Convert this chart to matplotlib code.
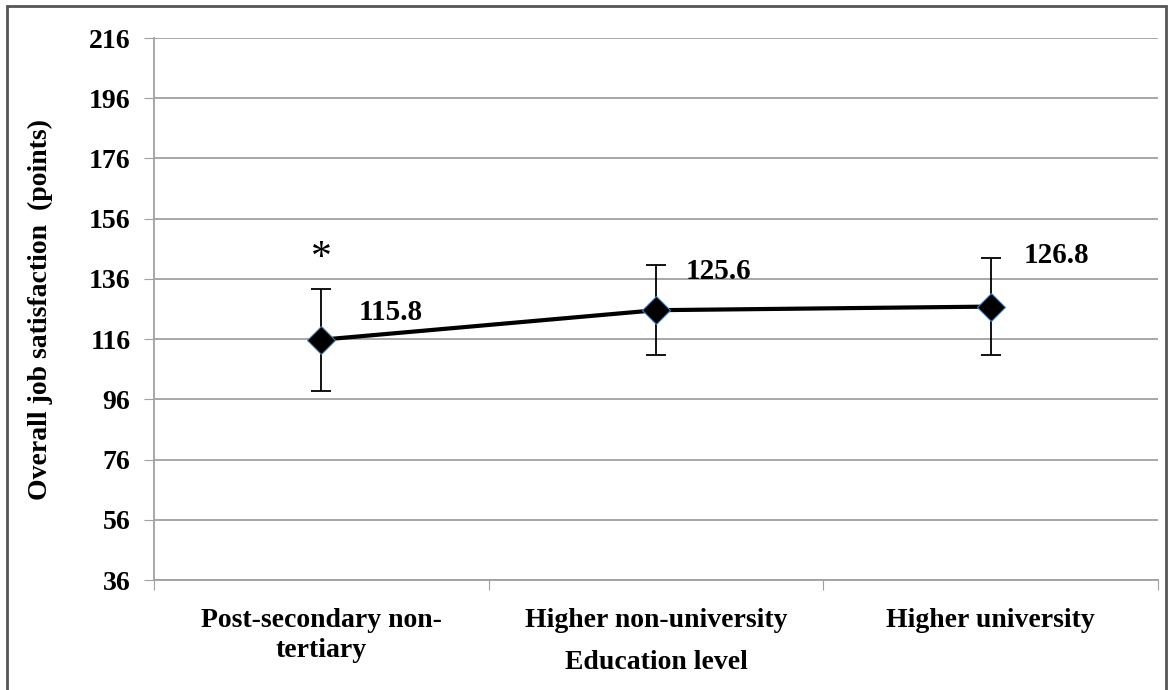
import matplotlib.pyplot as plt
from matplotlib.patches import Rectangle

categories = ['Post-secondary non-\ntertiary', 'Higher non-university', 'Higher university']
means = [115.8, 125.6, 126.8]
errors = [16.9, 15.0, 16.0]
value_labels = ['115.8', '125.6', '126.8']
label_offsets = [(69, 27), (62, 39), (66, 51)]
yticks = list(range(36, 217, 20))

plt.rcParams['font.family'] = ['Liberation Serif', 'DejaVu Serif']
plt.rcParams['font.weight'] = 'bold'

fig = plt.figure(figsize=(11.71, 6.9), dpi=100)
ax = fig.add_axes([154 / 1171, 1 - 580 / 690, (1158 - 154) / 1171, (580 - 38) / 690])

x = list(range(len(categories)))
ax.errorbar(x, means, yerr=errors, fmt='none', ecolor='black', elinewidth=1.3,
            capsize=7, capthick=1.3, zorder=3)
ax.plot(x, means, color='black', lw=3, marker='D', markersize=14,
        markerfacecolor='black', markeredgecolor='#4a7ebb', markeredgewidth=0.8, zorder=4)

for xi, yi, lab, (dx, dy) in zip(x, means, value_labels, label_offsets):
    ax.annotate(lab, xy=(xi, yi), xytext=(dx * 0.72, dy * 0.72), textcoords='offset points',
                ha='center', va='center', fontsize=21, fontweight='bold')

# significance mark over the first point
ax.annotate('*', xy=(x[0], means[0] + errors[0]), xytext=(0, 22), textcoords='offset points',
            ha='center', va='center', fontsize=30, fontweight='normal')

ax.set_xlim(-0.5, len(categories) - 0.5)
ax.set_ylim(36, 216)
ax.set_yticks(yticks)
ax.set_yticklabels([str(t) for t in yticks], fontsize=20, fontweight='bold')
ax.yaxis.grid(True, color='#a0a0a0', lw=1.3)
ax.set_axisbelow(True)

ax.set_xticks([i - 0.5 for i in range(len(categories) + 1)])
ax.set_xticklabels([])
ax.set_xticks(x, minor=True)
ax.set_xticklabels(categories, minor=True, fontsize=20, fontweight='bold', linespacing=1.3)
ax.tick_params(axis='x', which='minor', length=0, pad=20)
ax.tick_params(axis='x', which='major', length=7, color='#a0a0a0', direction='out')
ax.tick_params(axis='y', length=7, color='#a0a0a0', direction='out', pad=10)

for s in ['top', 'right']:
    ax.spines[s].set_visible(False)
for s in ['left', 'bottom']:
    ax.spines[s].set_color('#a0a0a0')
    ax.spines[s].set_linewidth(1.3)

ax.set_xlabel('Education level', fontsize=20, fontweight='bold', labelpad=-10)
ax.set_ylabel('Overall job satisfaction  (points)', fontsize=20, fontweight='bold', labelpad=26)

fig.patches.append(Rectangle((7 / 1171, -0.01), (1166 - 7) / 1171, 1 - 6 / 690 + 0.01,
                             transform=fig.transFigure, fill=False, edgecolor='#555555', lw=2))

fig.savefig('out.png', dpi=100)
